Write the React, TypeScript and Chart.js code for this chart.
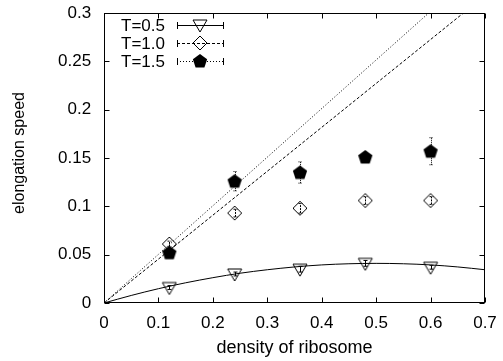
import React, { useEffect, useRef } from "react";
import { Chart, registerables } from "chart.js";

Chart.register(...registerables);

// ---- data ----
const densities = [0.12, 0.24, 0.36, 0.48, 0.6];
const speedT05 = [0.016, 0.03, 0.035, 0.041, 0.037];
const errT05 = [0.002, 0.002, 0.003, 0.003, 0.002];
const speedT10 = [0.061, 0.093, 0.098, 0.106, 0.106];
const errT10 = [0.003, 0.004, 0.005, 0.004, 0.004];
const speedT15 = [0.052, 0.126, 0.135, 0.151, 0.157];
const errT15 = [0.003, 0.01, 0.011, 0.004, 0.014];

const theoryX05 = [0, 0.05, 0.1, 0.15, 0.2, 0.25, 0.3, 0.35, 0.4, 0.45, 0.5, 0.55, 0.6, 0.65, 0.7];
const theoryY05 = [0, 0.0078, 0.0148, 0.0209, 0.0262, 0.0308, 0.0344, 0.0373, 0.0394, 0.0406, 0.041, 0.0406, 0.0394, 0.0373, 0.0344];
const theoryX10 = [0, 0.7];
const theoryY10 = [0, 0.318];
const theoryX15 = [0, 0.7];
const theoryY15 = [0, 0.352];

const legendLabels = ["T=0.5", "T=1.0", "T=1.5"];
const xTitle = "density of ribosome";
const yTitle = "elongation speed";

const FONT = "'Liberation Sans', Arial, sans-serif";

function makeMarker(kind: string): HTMLCanvasElement {
  const c = document.createElement("canvas");
  c.width = 18;
  c.height = 18;
  const ctx = c.getContext("2d")!;
  ctx.strokeStyle = "#000";
  ctx.fillStyle = "#000";
  ctx.lineWidth = 1;
  const cx = 9, cy = 9;
  ctx.beginPath();
  if (kind === "triangle") {
    ctx.moveTo(cx - 7, cy - 5);
    ctx.lineTo(cx + 7, cy - 5);
    ctx.lineTo(cx, cy + 7);
    ctx.closePath();
    ctx.stroke();
  } else if (kind === "diamond") {
    ctx.moveTo(cx, cy - 7);
    ctx.lineTo(cx + 7, cy);
    ctx.lineTo(cx, cy + 7);
    ctx.lineTo(cx - 7, cy);
    ctx.closePath();
    ctx.stroke();
  } else {
    const r = 7.5;
    for (let i = 0; i < 5; i++) {
      const a = -Math.PI / 2 + (i * 2 * Math.PI) / 5;
      const px = cx + r * Math.cos(a);
      const py = cy + 0.5 + r * Math.sin(a);
      if (i === 0) ctx.moveTo(px, py);
      else ctx.lineTo(px, py);
    }
    ctx.closePath();
    ctx.fill();
  }
  return c;
}

const dashFor = [[], [3, 2], [1, 2]];
let legendMarkers: HTMLCanvasElement[] = [];

const errorBarPlugin = {
  id: "errorBars",
  afterDatasetsDraw(chart: any) {
    const ctx = chart.ctx;
    const xs = chart.scales.x;
    const ys = chart.scales.y;
    chart.data.datasets.forEach((ds: any) => {
      if (!ds.errors) return;
      ctx.save();
      ctx.strokeStyle = "#000";
      ctx.lineWidth = 1;
      ctx.setLineDash(ds.errDash || []);
      ds.data.forEach((p: any, i: number) => {
        const e = ds.errors[i];
        const x = Math.round(xs.getPixelForValue(p.x)) + 0.5;
        const y1 = ys.getPixelForValue(p.y - e);
        const y2 = ys.getPixelForValue(p.y + e);
        ctx.beginPath();
        ctx.moveTo(x, y1);
        ctx.lineTo(x, y2);
        ctx.moveTo(x - 2, y1);
        ctx.lineTo(x + 2, y1);
        ctx.moveTo(x - 2, y2);
        ctx.lineTo(x + 2, y2);
        ctx.stroke();
      });
      ctx.restore();
    });
  },
};

const framePlugin = {
  id: "frame",
  afterDraw(chart: any) {
    const ctx = chart.ctx;
    const a = chart.chartArea;
    const l = Math.round(a.left) + 0.5;
    const r = Math.round(a.right) - 0.5;
    const t = Math.round(a.top) + 0.5;
    const b = Math.round(a.bottom) - 0.5;
    ctx.save();
    ctx.strokeStyle = "#000";
    ctx.lineWidth = 1;
    ctx.setLineDash([]);
    ctx.strokeRect(l, t, r - l, b - t);
    const tl = 5;
    ctx.beginPath();
    chart.scales.x.ticks.forEach((tk: any) => {
      const x = Math.round(chart.scales.x.getPixelForValue(tk.value)) + 0.5;
      ctx.moveTo(x, b);
      ctx.lineTo(x, b - tl);
      ctx.moveTo(x, t);
      ctx.lineTo(x, t + tl);
    });
    chart.scales.y.ticks.forEach((tk: any) => {
      const y = Math.round(chart.scales.y.getPixelForValue(tk.value)) + 0.5;
      ctx.moveTo(l, y);
      ctx.lineTo(l + tl, y);
      ctx.moveTo(r, y);
      ctx.lineTo(r - tl, y);
    });
    ctx.stroke();

    // y axis title
    ctx.fillStyle = "#000";
    ctx.save();
    ctx.translate(20, 153);
    ctx.rotate(-Math.PI / 2);
    ctx.font = `16px ${FONT}`;
    ctx.textAlign = "center";
    ctx.textBaseline = "middle";
    ctx.fillText(yTitle, 0, 0);
    ctx.restore();

    // legend
    const rows = [25, 43, 61];
    ctx.font = `17px ${FONT}`;
    ctx.textAlign = "right";
    ctx.textBaseline = "middle";
    legendLabels.forEach((lab, i) => {
      const y = rows[i];
      ctx.fillText(lab, 165, y + 1);
      ctx.setLineDash(dashFor[i]);
      ctx.beginPath();
      ctx.moveTo(177, y + 0.5);
      ctx.lineTo(224, y + 0.5);
      ctx.stroke();
      ctx.setLineDash([]);
      ctx.beginPath();
      ctx.moveTo(177.5, y - 3);
      ctx.lineTo(177.5, y + 4);
      ctx.moveTo(223.5, y - 3);
      ctx.lineTo(223.5, y + 4);
      ctx.stroke();
      if (legendMarkers[i]) ctx.drawImage(legendMarkers[i], 200 - 9, y - 9);
    });
    ctx.restore();
  },
};

const fmt = (v: any) => String(parseFloat(Number(v).toFixed(3)));

export default function App() {
  const ref = useRef<HTMLCanvasElement>(null);
  useEffect(() => {
    if (!ref.current) return;
    const markers = [makeMarker("triangle"), makeMarker("diamond"), makeMarker("pentagon")];
    legendMarkers = markers;
    const pts = (xs: number[], ys: number[]) => xs.map((x, i) => ({ x, y: ys[i] }));
    const chart = new Chart(ref.current, {
      type: "line",
      data: {
        datasets: [
          {
            data: pts(theoryX05, theoryY05),
            borderColor: "#000",
            borderWidth: 1,
            pointRadius: 0,
            cubicInterpolationMode: "monotone",
          } as any,
          {
            data: pts(theoryX10, theoryY10),
            borderColor: "#000",
            borderWidth: 1,
            borderDash: [3, 2],
            pointRadius: 0,
          },
          {
            data: pts(theoryX15, theoryY15),
            borderColor: "#000",
            borderWidth: 1,
            borderDash: [1, 2],
            pointRadius: 0,
          },
          {
            data: pts(densities, speedT05),
            showLine: false,
            pointStyle: markers[0],
            errors: errT05,
            errDash: [],
          } as any,
          {
            data: pts(densities, speedT10),
            showLine: false,
            pointStyle: markers[1],
            errors: errT10,
            errDash: [2, 1],
          } as any,
          {
            data: pts(densities, speedT15),
            showLine: false,
            pointStyle: markers[2],
            errors: errT15,
            errDash: [1, 1],
          } as any,
        ],
      },
      options: {
        responsive: false,
        animation: false,
        devicePixelRatio: 1,
        layout: { padding: { top: 13, right: 18, left: 0, bottom: 0 } },
        plugins: { legend: { display: false }, tooltip: { enabled: false } },
        scales: {
          x: {
            type: "linear",
            min: 0,
            max: 0.7,
            afterFit: (s: any) => {
              s.height = 58;
            },
            grid: { display: false, drawTicks: false },
            border: { display: false },
            ticks: {
              stepSize: 0.1,
              color: "#000",
              padding: 5,
              font: { family: FONT, size: 17, lineHeight: 30 / 17 },
              maxRotation: 0,
              callback: fmt,
            },
            title: { display: true, text: xTitle, color: "#000", font: { family: FONT, size: 18 }, padding: { top: 0, bottom: 2 } },
          },
          y: {
            type: "linear",
            min: 0,
            max: 0.3,
            afterFit: (s: any) => {
              s.width = 104;
            },
            grid: { display: false, drawTicks: false },
            border: { display: false },
            ticks: {
              stepSize: 0.05,
              color: "#000",
              padding: 12.9,
              font: { family: FONT, size: 17, lineHeight: 0.01 },
              callback: fmt,
            },
            title: { display: false },
          },
        },
      } as any,
      plugins: [errorBarPlugin, framePlugin],
    });
    return () => chart.destroy();
  }, []);
  return (
    <div style={{ position: "fixed", left: 0, top: 0, width: 503, height: 361, background: "#fff" }}>
      <canvas ref={ref} width={503} height={361} style={{ display: "block" }} />
    </div>
  );
}
